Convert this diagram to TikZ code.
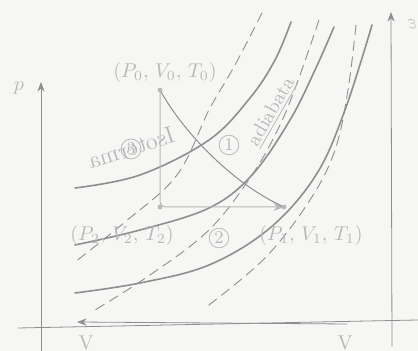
\documentclass[tikz,border=0pt]{standalone}
\usetikzlibrary{arrows.meta}
\usepackage{amsmath,amssymb}
\definecolor{paper}{rgb}{0.965,0.965,0.96}
\definecolor{inkA}{rgb}{0.56,0.56,0.56}
\definecolor{inkB}{rgb}{0.72,0.72,0.72}
\tikzset{
  iso/.style={inkA, line width=0.8pt},
  adia/.style={inkA, line width=0.45pt, dash pattern=on 5pt off 3pt},
  axis/.style={inkA, line width=0.4pt},
  lbl/.style={text=inkB, inner sep=1pt},
  num/.style={circle, draw=inkB, text=inkB, inner sep=0.8pt, font=\small}
}
\begin{document}
\begin{tikzpicture}[x=0.5pt, y=-0.5pt, >=Stealth, line cap=round]
\fill[paper] (0,0) rectangle (418,351);
\useasboundingbox (0,0) rectangle (418,351);
% ---------- 坐标轴 ----------
\draw[axis, ->] (41,351) -- (41,82);
\draw[axis, ->] (392,346) -- (391,12);
\draw[axis] (18,328) -- (418,320);
\coordinate (Vb) at (347,324);
\coordinate (Va) at (77,322);
\draw[axis, ->] (Vb) -- (Va);
\node[lbl] (p) at (19,88) {$p$};
\node[lbl] (Vl) at (86,343) {V};
\node[lbl] (Vr) at (345,343) {V};
\node[lbl] (e) at (412,24) {\reflectbox{$\varepsilon$}};
% ---------- 等温线（实线） ----------
\draw[iso] plot[smooth, tension=0.6] coordinates {(75,188) (140,175) (209,140) (250,98) (275,60) (291,22)};
\draw[iso] plot[smooth, tension=0.6] coordinates {(75,245) (140,230) (209,208) (252,175) (290,120) (315,70) (334,27)};
\draw[iso] plot[smooth, tension=0.6] coordinates {(75,293) (140,283) (209,265) (270,228) (316,175) (345,110) (372,25)};
% ---------- 绝热线（虚线） ----------
\draw[adia] plot[smooth, tension=0.6] coordinates {(262,13) (235,65) (209,110) (177,175) (125,222) (75,262)};
\draw[adia] plot[smooth, tension=0.6] coordinates {(319,20) (300,75) (280,125) (252,175) (209,230) (150,275) (95,310)};
\draw[adia] plot[smooth, tension=0.6] coordinates {(356,25) (348,90) (335,150) (310,200) (265,258) (205,308)};
% ---------- 循环 ----------
\coordinate (P0) at (160,90);
\coordinate (P2) at (160,207);
\coordinate (P1) at (284,207);
\draw[inkB, line width=0.5pt, rounded corners=3pt, ->] (P0) -- (P2) -- (P1);
\draw[inkA, line width=0.5pt] (P0) .. controls (185,135) and (235,185) .. (P1);
\foreach \pt in {P0,P1,P2} \fill[inkB] (\pt) circle (1.2pt);
\node[lbl] (l0) at (165,73) {$(P_0,\,V_0,\,T_0)$};
\node[lbl] (l2) at (122,236) {$(P_2,\,V_2,\,T_2)$};
\node[lbl] (l1) at (311,236) {$(P_1,\,V_1,\,T_1)$};
\node[num] (n1) at (229,145) {1};
\node[num] (n2) at (219,238) {2};
% 曲线名称
\node[lbl, rotate=18, font=\large] (isot) at (131,148) {\reflectbox{Isoterma}};
\node[num] (n3) at (131,149) {3};
\node[lbl, rotate=60] (adb) at (272,112) {\underline{adiabata}};
\end{tikzpicture}
\end{document}
